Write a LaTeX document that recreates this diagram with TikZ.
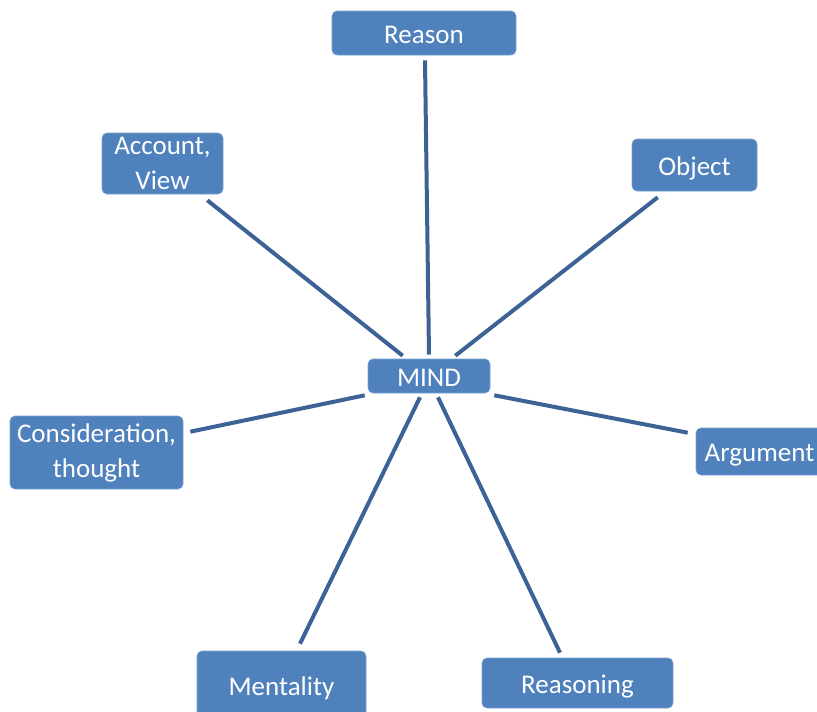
\documentclass[tikz,border=0pt]{standalone}
\usepackage{fontspec}
\setmainfont{Carlito}
\definecolor{boxblue}{RGB}{79,129,189}
\definecolor{boxedge}{RGB}{120,160,210}
\definecolor{linkblue}{RGB}{61,98,150}
\newcommand{\oneline}[1]{\raisebox{-10.2pt}[0pt][0pt]{#1}}
\begin{document}
\begin{tikzpicture}[x=1pt,y=-1pt,
  concept/.style={rectangle,rounded corners=5pt,fill=boxblue,draw=boxedge,line width=0.6pt,
    text=white,font=\fontsize{27}{35}\selectfont,align=center,inner sep=0pt},
  link/.style={draw=linkblue,line width=4pt}]
\useasboundingbox (0,0) rectangle (817,712);
\begin{scope}
\clip (0,0) rectangle (817,712);
\node[concept,minimum width=184pt,minimum height=44pt] (reason) at (424,33) {\oneline{Reason}};
\node[concept,minimum width=121pt,minimum height=61pt] (account) at (162.5,163.5) {Account,\\View};
\node[concept,minimum width=125pt,minimum height=52pt] (object) at (694.5,165) {\oneline{Object}};
\node[concept,minimum width=122pt,minimum height=34pt] (mind) at (429,376) {\oneline{MIND}};
\node[concept,minimum width=173pt,minimum height=73pt] (consid) at (96.5,452.5) {Consideration,\\thought};
\node[concept,minimum width=127pt,minimum height=47pt] (argument) at (759.5,451.5) {\oneline{Argument}};
\node[concept,minimum width=169pt,minimum height=68pt] (mentality) at (281.5,685) {\oneline{Mentality}};
\node[concept,minimum width=191pt,minimum height=50pt] (reasoning) at (577.5,683) {\oneline{Reasoning}};

\draw[link] ([xshift=1pt,yshift=-5pt]reason.south) -- ([yshift=4pt]mind.north);
\draw[link] ([xshift=-16pt,yshift=-6pt]account.south east) -- ([xshift=35pt,yshift=3pt]mind.north west);
\draw[link] ([xshift=26pt,yshift=-6pt]object.south west) -- ([xshift=-35pt,yshift=3pt]mind.north east);
\draw[link] ([xshift=7pt,yshift=-16pt]consid.north east) -- ([xshift=-3pt,yshift=-2pt]mind.south west);
\draw[link] ([xshift=4pt,yshift=-2pt]mind.south east) -- ([xshift=-8pt,yshift=-5pt]argument.north west);
\draw[link] ([xshift=-9pt,yshift=-4pt]mind.south) -- ([xshift=18.5pt,yshift=7pt]mentality.north);
\draw[link] ([xshift=9pt,yshift=-4pt]mind.south) -- ([xshift=-17.5pt,yshift=5pt]reasoning.north);
\end{scope}
\end{tikzpicture}
\end{document}
